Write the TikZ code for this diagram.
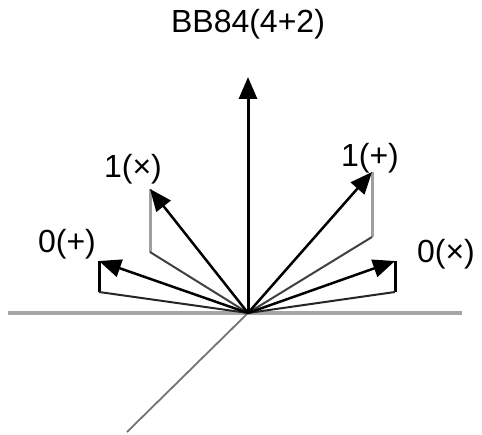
\documentclass[tikz,border=0pt]{standalone}
\usepackage{fontspec}
\setmainfont{Liberation Sans}
\usetikzlibrary{arrows.meta}

\tikzset{
  vec/.style={line width=2.5pt,-{Triangle[length=22pt,width=18pt]}},
  riser/.style={line width=3pt},
  foot/.style={line width=2pt},
  lbl/.style={inner sep=0pt,font=\fontsize{32}{38}\selectfont}
}

\begin{document}
\begin{tikzpicture}[x=1pt,y=-1pt]
        \useasboundingbox (0,0) rectangle (482,435);
        % axes
        \coordinate (o) at (248, 313);
        \coordinate (left) at (8, 313);
        \coordinate (right) at (462, 313);
        \coordinate (back) at (127, 432);
        \draw[gray!70,line width=4pt] (left) -- (right);
        \draw[gray!90!black,line width=1.8pt] (o) -- (back);
        
        % tips and feet of the four states
        \coordinate (tA) at (150, 189);
        \coordinate (fA) at (150, 252);
        \coordinate (tB) at (99, 261);
        \coordinate (fB) at (99, 292);
        \coordinate (tC) at (372, 172);
        \coordinate (fC) at (372, 237);
        \coordinate (tD) at (395, 261);
        \coordinate (fD) at (395, 292);
        
        \draw[riser,gray!75] (tA) -- (fA);
        \draw[foot,gray!50!black] (fA) -- (o);
        \draw[riser,black] (tB) -- (fB);
        \draw[foot,black!85] (fB) -- (o);
        \draw[riser,gray!75] (tC) -- (fC);
        \draw[foot,gray!50!black] (fC) -- (o);
        \draw[riser,black] (tD) -- (fD);
        \draw[foot,black!85] (fD) -- (o);
        
        \coordinate (top) at (248, 77);
        \draw[vec,line width=3pt] (o) -- (top);
        \draw[vec] (o) -- (tA);
        \draw[vec] (o) -- (tB);
        \draw[vec] (o) -- (tC);
        \draw[vec] (o) -- (tD);
        
        % labels
        \node[lbl] (title) at (248, 24) {BB84(4+2)};
        \node[lbl] (one-x) at (133, 169) {1(×)};
        \node[lbl] (zero-p) at (67, 244) {0(+)};
        \node[lbl] (one-p) at (370, 158) {1(+)};
        \node[lbl] (zero-x) at (446, 254) {0(×)};
\end{tikzpicture}
\end{document}
